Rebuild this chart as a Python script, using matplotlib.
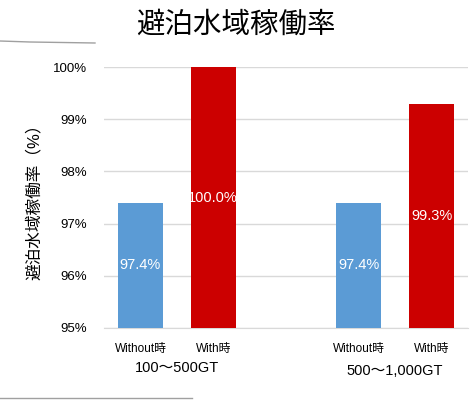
import matplotlib.pyplot as plt
from matplotlib.lines import Line2D

plt.rcParams['font.family'] = ['Liberation Sans', 'Noto Sans CJK JP']

title = '避泊水域稼働率'
ylabel = '避泊水域稼働率（%）'
bar_labels = ['Without時', 'With時', 'Without時', 'With時']
groups = ['100〜500GT', '500〜1,000GT']
values = [97.4, 100.0, 97.4, 99.3]
colors = ['#5B9BD5', '#CC0000', '#5B9BD5', '#CC0000']
positions = [0, 1, 3, 4]

fig = plt.figure(figsize=(4.71, 4.04), dpi=100)
ax = fig.add_axes([104 / 471, 1 - 328 / 404, 364 / 471, 261 / 404])

ax.bar(positions, [v - 95 for v in values], bottom=95, width=0.62, color=colors, zorder=3)
for x, v in zip(positions, values):
    ax.text(x, (95 + v) / 2, f'{v:.1f}%', ha='center', va='center',
            color='white', fontsize=10.5, zorder=4)

ax.set_ylim(95, 100)
ax.set_xlim(-0.5, 4.5)
ax.set_yticks([95, 96, 97, 98, 99, 100])
ax.set_yticklabels([f'{t}%' for t in range(95, 101)], fontsize=9.5)
ax.tick_params(axis='y', length=0, pad=12)
ax.set_xticks(positions)
ax.set_xticklabels(bar_labels, fontsize=8.5)
ax.tick_params(axis='x', length=0, pad=11)
ax.grid(axis='y', color='#D9D9D9', linewidth=1, zorder=0)
for s in ['top', 'right', 'left']:
    ax.spines[s].set_visible(False)
ax.spines['bottom'].set_color('#D9D9D9')

tr = ax.get_xaxis_transform()
ax.text(0.5, -40 / 261, groups[0], ha='center', va='center', fontsize=10.5,
        transform=tr, clip_on=False)
ax.text(3.5, -43 / 261, groups[1], ha='center', va='center', fontsize=10.5,
        transform=tr, clip_on=False)

fig.text(236 / 471, 1 - 25 / 404, title, ha='center', va='center', fontsize=20.5)
fig.text(34 / 471, 1 - 198 / 404, ylabel, ha='center', va='center', rotation=90, fontsize=12)

fig.add_artist(Line2D([0, 30 / 471, 95 / 471], [1 - 41 / 404, 1 - 42 / 404, 1 - 43 / 404],
                      color='#A0A0A0', linewidth=1))
fig.add_artist(Line2D([0, 192 / 471], [1 - 398 / 404, 1 - 398 / 404],
                      color='#A0A0A0', linewidth=1))

fig.savefig('out.png', dpi=100)
